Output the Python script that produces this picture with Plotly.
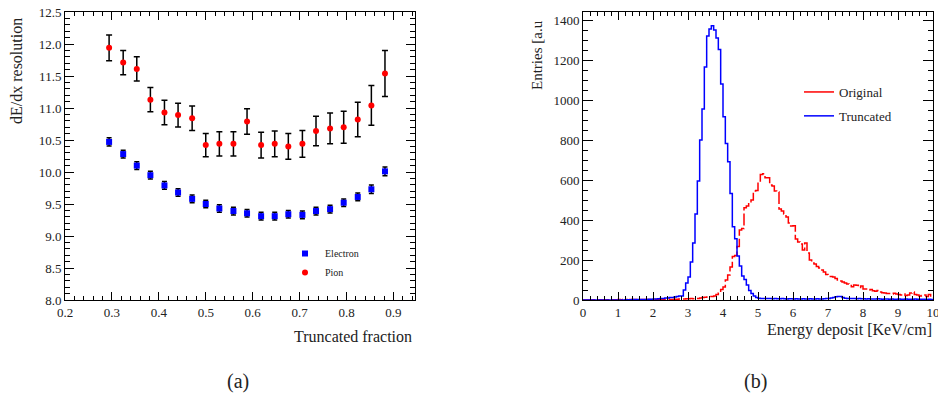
import numpy as np
import plotly.graph_objects as go

# ---------------- data: panel (a) ----------------
trunc_fraction = [0.294, 0.324, 0.353, 0.382, 0.412, 0.441, 0.471, 0.500, 0.529, 0.559,
                  0.588, 0.618, 0.647, 0.676, 0.706, 0.735, 0.765, 0.794, 0.824, 0.853, 0.882]
electron_res = [10.47, 10.28, 10.10, 9.95, 9.79, 9.68, 9.58, 9.50, 9.43, 9.39,
                9.355, 9.31, 9.31, 9.34, 9.33, 9.39, 9.42, 9.52, 9.61, 9.73, 10.01]
electron_err = [0.065, 0.06, 0.06, 0.06, 0.06, 0.06, 0.06, 0.06, 0.06, 0.06,
                0.06, 0.06, 0.06, 0.06, 0.06, 0.06, 0.06, 0.06, 0.06, 0.065, 0.07]
pion_res = [11.94, 11.71, 11.61, 11.13, 10.93, 10.89, 10.84, 10.42, 10.44, 10.44,
            10.79, 10.42, 10.44, 10.40, 10.44, 10.64, 10.68, 10.70, 10.82, 11.04, 11.54]
pion_err = [0.20, 0.19, 0.19, 0.19, 0.19, 0.185, 0.19, 0.18, 0.19, 0.19,
            0.20, 0.20, 0.20, 0.20, 0.21, 0.23, 0.24, 0.25, 0.27, 0.31, 0.36]

# ---------------- data: panel (b) ----------------
n_bins = 150
e_min, e_max = 0.0, 10.0
original_counts = [
    0, 0, 0, 0, 1, 0, 0, 1, 0, 1, 1, 0, 1, 1, 1, 2, 1, 2, 2, 1,
    2, 2, 3, 2, 2, 3, 2, 3, 3, 3, 2, 3, 3, 3, 4, 3, 4, 3, 3, 4,
    4, 5, 5, 5, 6, 6, 7, 6, 8, 8, 10, 12, 14, 15, 17, 18, 20, 28, 35, 52,
    65, 100, 125, 165, 218, 222, 267, 350, 358, 462, 470, 492, 500, 545, 548, 590, 628, 632, 612, 612,
    575, 570, 545, 540, 455, 445, 430, 415, 385, 370, 372, 305, 290, 280, 250, 285, 235, 200, 185, 180,
    168, 160, 150, 140, 128, 122, 118, 115, 108, 100, 95, 90, 85, 80, 72, 66, 75, 74, 62, 70,
    55, 55, 50, 52, 46, 44, 48, 40, 36, 35, 33, 32, 30, 34, 30, 27, 25, 30, 22, 25,
    35, 40, 28, 25, 20, 22, 25, 18, 27, 12,
]
truncated_counts = [
    0, 0, 0, 0, 0, 0, 0, 0, 0, 0, 0, 0, 0, 0, 0, 0, 0, 0, 1, 1,
    1, 2, 2, 2, 2, 3, 3, 3, 4, 4, 5, 5, 6, 8, 8, 10, 10, 13, 12, 15,
    18, 20, 20, 50, 85, 115, 190, 285, 430, 595, 800, 955, 1165, 1320, 1355, 1372, 1350, 1310, 1253, 1080,
    917, 783, 692, 533, 367, 307, 220, 170, 120, 103, 75, 47, 33, 20, 12, 9, 8, 8, 7, 8,
    7, 6, 7, 6, 6, 7, 6, 5, 6, 6, 5, 6, 5, 5, 6, 5, 5, 6, 5, 5,
    6, 5, 5, 6, 7, 8, 10, 12, 16, 18, 17, 12, 9, 8, 7, 7, 8, 6, 7, 6,
    6, 5, 6, 5, 5, 5, 6, 5, 4, 5, 5, 4, 5, 4, 4, 5, 4, 4, 5, 4,
    4, 4, 5, 4, 4, 4, 4, 3, 4, 3,
]
bin_edges = np.linspace(e_min, e_max, n_bins + 1)

W, H = 938, 406
FONT = "Liberation Serif"


def px_x(p):
    """screen pixel x -> paper fraction"""
    return p / W


def px_y(p):
    """screen pixel y (from top) -> paper fraction"""
    return (H - p) / H


fig = go.Figure()

# ---- panel (a) ----
fig.add_trace(go.Scatter(
    x=trunc_fraction, y=electron_res, mode="markers", name="Electron",
    marker=dict(symbol="square", size=6, color="#0000ff"),
    error_y=dict(type="data", array=electron_err, color="black", thickness=1.5, width=2.5),
    xaxis="x", yaxis="y", legend="legend"))
fig.add_trace(go.Scatter(
    x=trunc_fraction, y=pion_res, mode="markers", name="Pion",
    marker=dict(symbol="circle", size=6, color="#ff0000"),
    error_y=dict(type="data", array=pion_err, color="black", thickness=1.5, width=3),
    xaxis="x", yaxis="y", legend="legend"))

# ---- panel (b) ----
fig.add_trace(go.Scatter(
    x=[None], y=[None], mode="lines", name="Original", legendgroup="orig",
    line=dict(color="#ff0000", width=1.5),
    xaxis="x2", yaxis="y2", legend="legend2"))
fig.add_trace(go.Scatter(
    x=bin_edges, y=list(original_counts) + [original_counts[-1]], mode="lines",
    line=dict(color="#ff0000", width=1.5, shape="hv", dash="12px,3px"),
    showlegend=False, name="Original", legendgroup="orig", xaxis="x2", yaxis="y2"))
fig.add_trace(go.Scatter(
    x=bin_edges, y=list(truncated_counts) + [truncated_counts[-1]], mode="lines",
    line=dict(color="#0000ff", width=1.5, shape="hv"),
    name="Truncated", legendgroup="trunc", xaxis="x2", yaxis="y2", legend="legend2"))

tickfont = dict(family=FONT, size=13, color="#222")
common = dict(showgrid=False, zeroline=False, showline=True, linecolor="black", linewidth=1,
              mirror="allticks", ticks="inside", tickcolor="black", tickfont=tickfont,
              automargin=False, ticklabeloverflow="allow")

fig.update_layout(
    template="none",
    width=W, height=H, margin=dict(l=0, r=0, t=0, b=0, pad=0, autoexpand=False),
    paper_bgcolor="white", plot_bgcolor="white",
    font=dict(family=FONT, color="black"),
    xaxis=dict(domain=[px_x(65), px_x(415)], range=[0.2, 0.946], dtick=0.1, tick0=0.2,
               tickformat=".1f", ticklen=8,
               minor=dict(ticks="inside", ticklen=4, dtick=0.02, tickcolor="black"),
               anchor="y", **common),
    yaxis=dict(domain=[px_y(300), px_y(12)], range=[8.0, 12.5], dtick=0.5, tickformat=".1f",
               ticklen=9, minor=dict(ticks="inside", ticklen=5, dtick=0.1, tickcolor="black"),
               anchor="x", **common),
    xaxis2=dict(domain=[px_x(583), px_x(933)], range=[0, 10], dtick=1, ticklen=8,
                minor=dict(ticks="inside", ticklen=4, dtick=0.2, tickcolor="black"),
                anchor="y2", **common),
    yaxis2=dict(domain=[px_y(300), px_y(12)], range=[0, 1440.6], dtick=200, ticklen=10,
                minor=dict(ticks="inside", ticklen=5, dtick=50, tickcolor="black"),
                anchor="x2", **common),
    legend=dict(x=px_x(285), y=px_y(239), xanchor="left", yanchor="top",
                bgcolor="rgba(0,0,0,0)", font=dict(family=FONT, size=10, color="#222")),
    legend2=dict(x=px_x(799), y=px_y(77), xanchor="left", yanchor="top",
                 tracegroupgap=4,
                 bgcolor="rgba(0,0,0,0)", font=dict(family=FONT, size=13, color="#222")),
    showlegend=True,
)

annotations = [
    dict(text="dE/dx resolution", x=px_x(17), y=px_y(71), textangle=-90,
         font=dict(family=FONT, size=16, color="#222")),
    dict(text="Truncated fraction", x=px_x(414), y=px_y(336), xanchor="right",
         font=dict(family=FONT, size=16, color="#222")),
    dict(text="Entries [a.u", x=px_x(537), y=px_y(55), textangle=-90,
         font=dict(family=FONT, size=15, color="#222")),
    dict(text="Energy deposit [KeV/cm]", x=px_x(934), y=px_y(330), xanchor="right",
         font=dict(family=FONT, size=16, color="#222")),
    dict(text="(a)", x=px_x(238), y=px_y(381), font=dict(family=FONT, size=20, color="#222")),
    dict(text="(b)", x=px_x(755), y=px_y(381), font=dict(family=FONT, size=20, color="#222")),
]
for a in annotations:
    a.setdefault("xanchor", "center")
    a.setdefault("yanchor", "middle")
    a.update(xref="paper", yref="paper", showarrow=False)
fig.update_layout(annotations=annotations)

# place the 938x406 figure at the window's top-left corner (no default body margin)
fig.write_html("out.html", config={"displayModeBar": False},
               post_script="document.body.style.margin='0px';")
